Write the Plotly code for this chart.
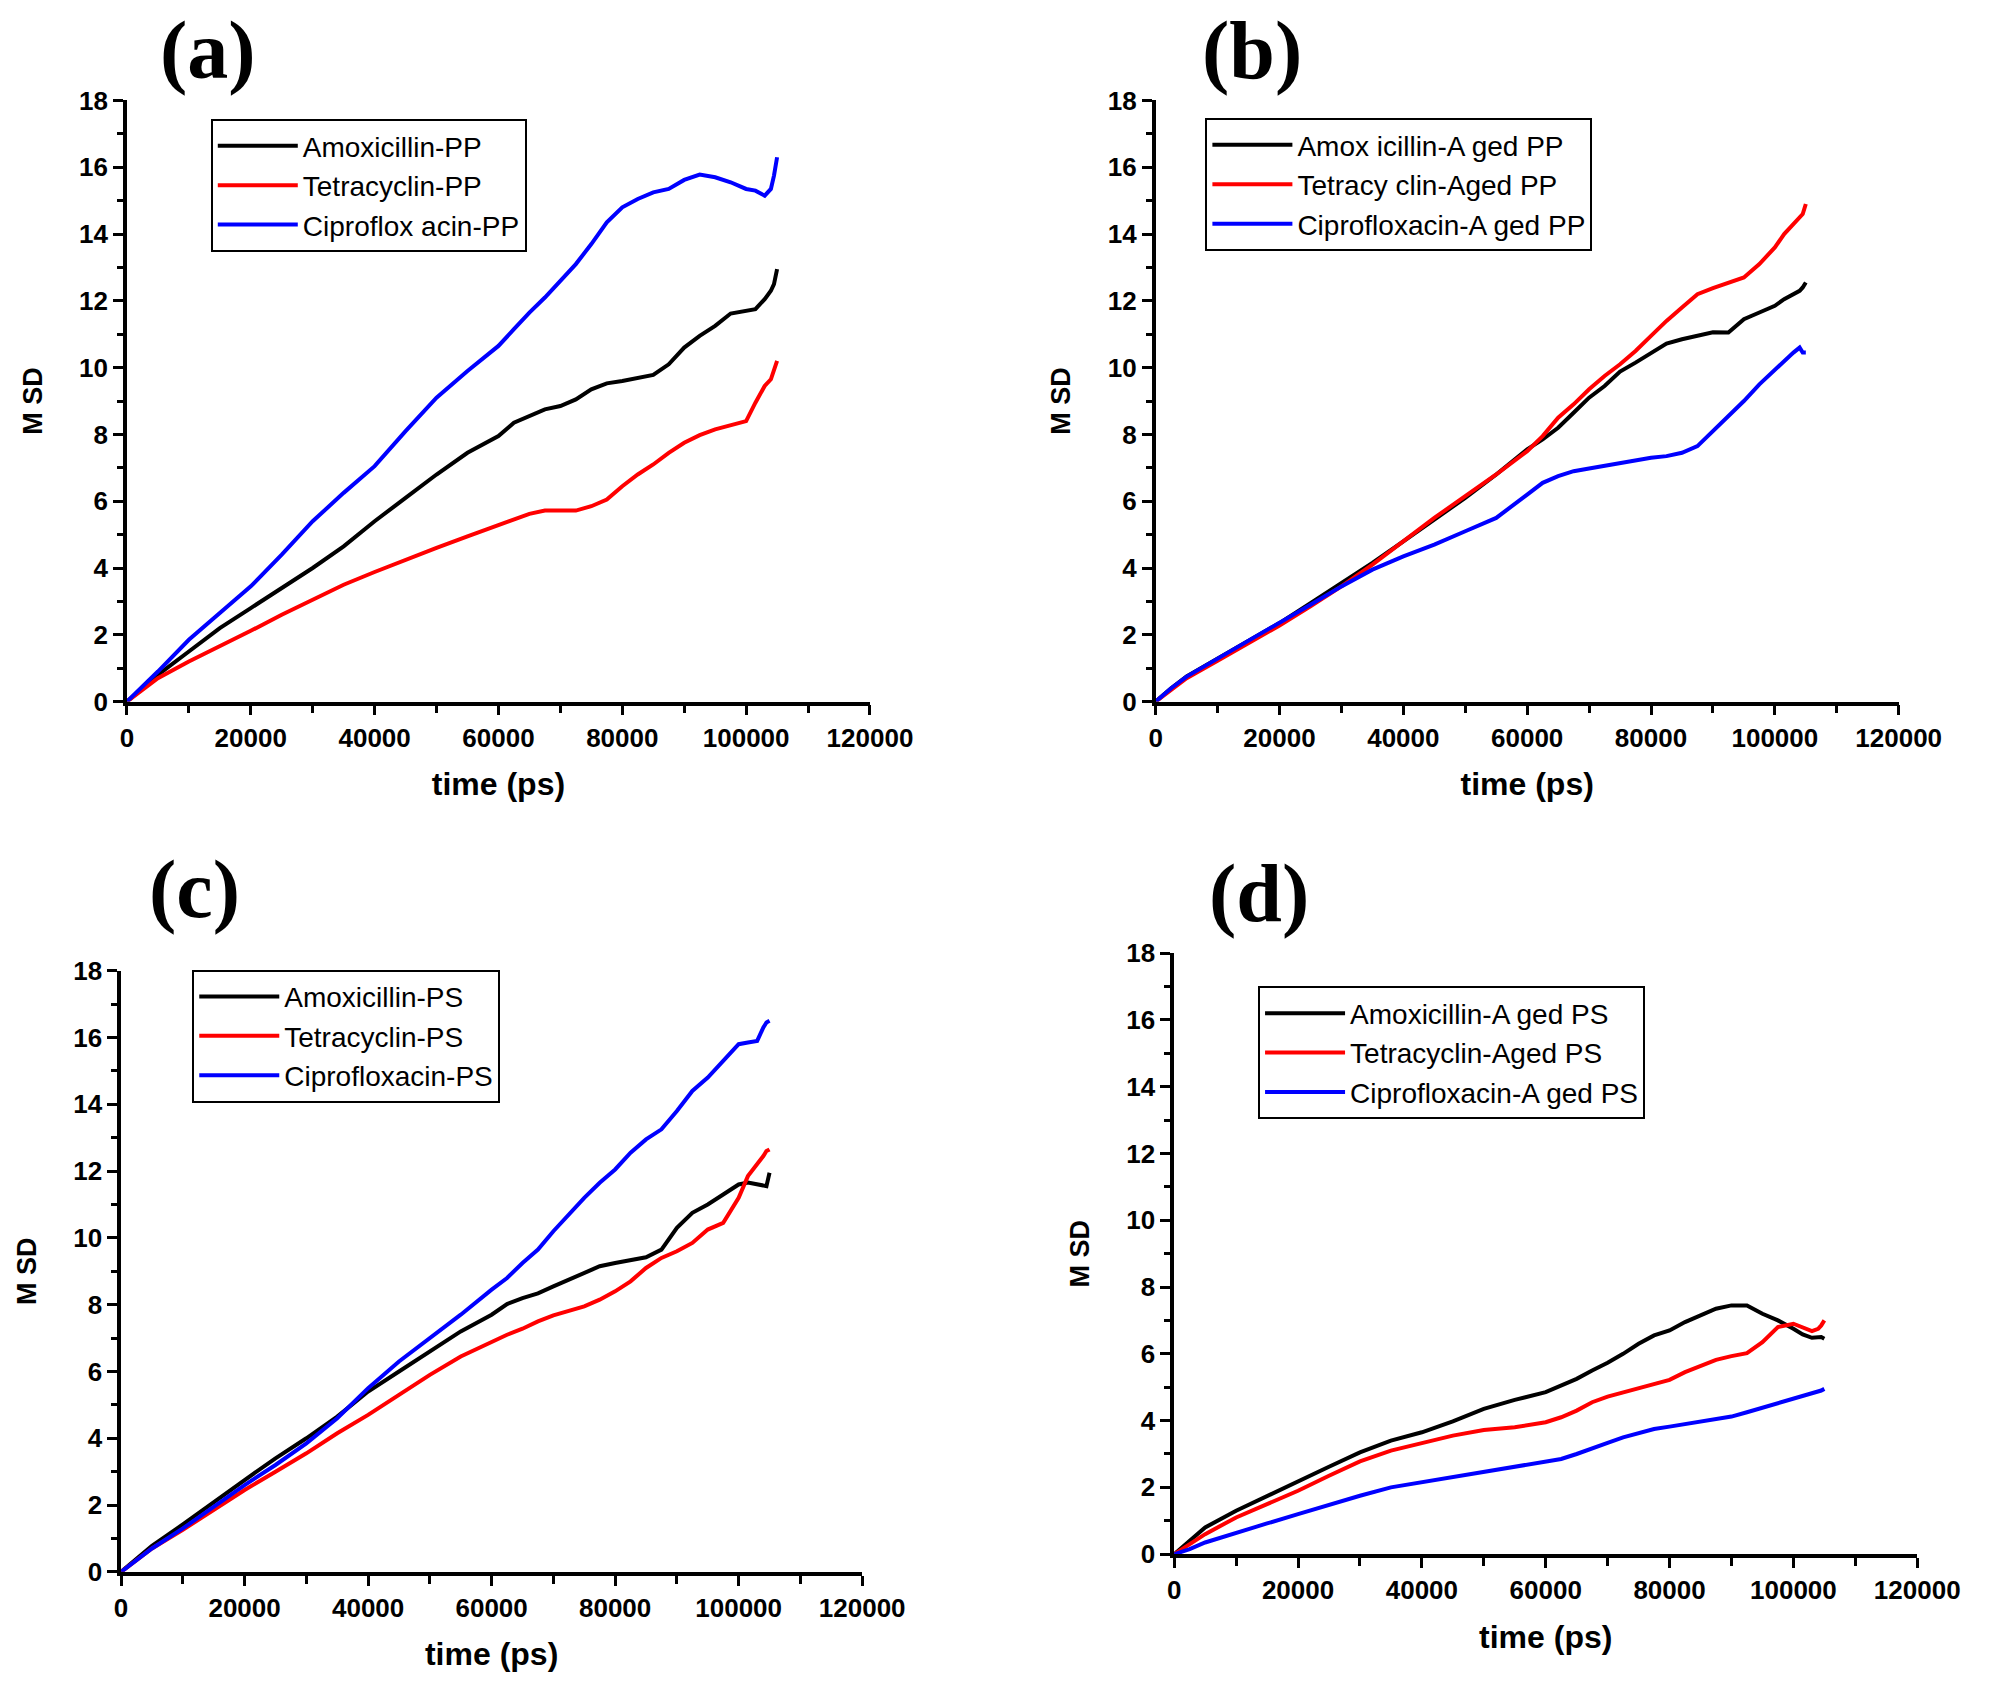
import plotly.graph_objects as go

# ---------------- data ----------------
time_ps = [0, 2500, 5000, 10000, 15000, 20000, 25000, 30000, 35000, 40000, 45000,
           50000, 55000, 60000, 62500, 65000, 67500, 70000, 72500, 75000, 77500,
           80000, 82500, 85000, 87500, 90000, 92500, 95000, 97500, 100000, 101500,
           103000, 104000, 104500, 105000]

# (a) PP
amox_pp = [0, 0.4, 0.8, 1.5, 2.2, 2.8, 3.4, 4.0, 4.65, 5.4, 6.1, 6.8, 7.45, 7.95,
           8.35, 8.55, 8.75, 8.85, 9.05, 9.35, 9.53, 9.6, 9.68, 9.78, 10.1, 10.6,
           10.95, 11.25, 11.62, 11.7, 11.75, 12.05, 12.3, 12.5, 12.95]
tetra_pp = [0, 0.35, 0.7, 1.2, 1.65, 2.12, 2.6, 3.06, 3.5, 3.88, 4.25, 4.6, 4.95,
            5.3, 5.45, 5.62, 5.72, 5.72, 5.72, 5.85, 6.05, 6.45, 6.8, 7.1, 7.45,
            7.75, 7.98, 8.15, 8.27, 8.4, 8.95, 9.45, 9.65, 9.9, 10.2]
cipro_pp = [0, 0.45, 0.9, 1.85, 2.65, 3.45, 4.4, 5.4, 6.25, 7.05, 8.1, 9.1, 9.9,
            10.65, 11.15, 11.65, 12.1, 12.6, 13.1, 13.7, 14.35, 14.8, 15.05, 15.25,
            15.35, 15.62, 15.78, 15.7, 15.55, 15.35, 15.3, 15.15, 15.35, 15.75, 16.3]

# (b) Aged PP
amox_aged_pp = [0, 0.4, 0.75, 1.28, 1.82, 2.35, 2.95, 3.55, 4.15, 4.8, 5.45, 6.1,
                6.8, 7.55, 7.85, 8.2, 8.65, 9.1, 9.45, 9.88, 10.15, 10.45, 10.72,
                10.85, 10.97, 11.06, 11.05, 11.45, 11.65, 11.85, 12.05, 12.2, 12.3,
                12.4, 12.55]
tetra_aged_pp = [0, 0.35, 0.7, 1.22, 1.75, 2.28, 2.85, 3.45, 4.1, 4.8, 5.5, 6.15,
                 6.8, 7.5, 7.95, 8.5, 8.9, 9.35, 9.75, 10.1, 10.5, 10.95, 11.4, 11.8,
                 12.2, 12.38, 12.55, 12.7, 13.1, 13.6, 14.0, 14.3, 14.5, 14.6, 14.9]
cipro_aged_pp = [0, 0.4, 0.75, 1.28, 1.82, 2.35, 2.9, 3.45, 3.95, 4.35, 4.7, 5.1,
                 5.5, 6.2, 6.55, 6.75, 6.9, 6.98, 7.06, 7.15, 7.24, 7.3, 7.35, 7.45,
                 7.65, 8.1, 8.55, 9.0, 9.5, 9.95, 10.2, 10.45, 10.6, 10.45, 10.45]

# (c) PS
amox_ps = [0, 0.4, 0.78, 1.42, 2.1, 2.75, 3.4, 4.0, 4.65, 5.4, 6.0, 6.6, 7.2, 7.7,
           8.02, 8.2, 8.34, 8.55, 8.75, 8.95, 9.15, 9.25, 9.35, 9.42, 9.65, 10.3,
           10.75, 11.0, 11.3, 11.6, 11.66, 11.6, 11.55, 11.55, 11.95]
tetra_ps = [0, 0.35, 0.7, 1.26, 1.85, 2.45, 3.0, 3.55, 4.15, 4.7, 5.3, 5.9, 6.45,
            6.9, 7.1, 7.28, 7.5, 7.68, 7.8, 7.95, 8.15, 8.4, 8.7, 9.1, 9.4, 9.6,
            9.85, 10.25, 10.45, 11.2, 11.85, 12.2, 12.45, 12.6, 12.65]
cipro_ps = [0, 0.35, 0.7, 1.3, 1.95, 2.6, 3.2, 3.85, 4.6, 5.5, 6.3, 7.0, 7.7, 8.45,
            8.8, 9.25, 9.65, 10.2, 10.7, 11.2, 11.65, 12.05, 12.55, 12.95, 13.25,
            13.8, 14.4, 14.8, 15.3, 15.8, 15.85, 15.9, 16.3, 16.45, 16.5]

# (d) Aged PS
amox_aged_ps = [0, 0.4, 0.8, 1.3, 1.75, 2.2, 2.62, 3.05, 3.4, 3.65, 3.98, 4.35,
                4.62, 4.85, 5.05, 5.25, 5.5, 5.73, 6.0, 6.3, 6.55, 6.7, 6.95, 7.15,
                7.35, 7.45, 7.45, 7.2, 7.0, 6.75, 6.58, 6.48, 6.5, 6.5, 6.45]
tetra_aged_ps = [0, 0.3, 0.6, 1.1, 1.5, 1.9, 2.35, 2.78, 3.1, 3.32, 3.55, 3.72,
                 3.8, 3.95, 4.1, 4.3, 4.55, 4.72, 4.85, 4.95, 5.1, 5.22, 5.45, 5.65,
                 5.82, 5.93, 6.02, 6.35, 6.8, 6.9, 6.78, 6.68, 6.75, 6.85, 7.0]
cipro_aged_ps = [0, 0.15, 0.35, 0.62, 0.92, 1.2, 1.48, 1.75, 2.0, 2.15, 2.33, 2.48,
                 2.6, 2.75, 2.85, 3.0, 3.15, 3.33, 3.5, 3.62, 3.75, 3.82, 3.9, 3.97,
                 4.05, 4.12, 4.25, 4.38, 4.52, 4.65, 4.72, 4.82, 4.87, 4.9, 4.95]

panel_labels = ["(a)", "(b)", "(c)", "(d)"]
series_names = [
    ["Amoxicillin-PP", "Tetracyclin-PP", "Ciproflox acin-PP"],
    ["Amox icillin-A ged PP", "Tetracy clin-Aged PP", "Ciprofloxacin-A ged PP"],
    ["Amoxicillin-PS", "Tetracyclin-PS", "Ciprofloxacin-PS"],
    ["Amoxicillin-A ged PS", "Tetracyclin-Aged PS", "Ciprofloxacin-A ged PS"],
]
series_values = [
    [amox_pp, tetra_pp, cipro_pp],
    [amox_aged_pp, tetra_aged_pp, cipro_aged_pp],
    [amox_ps, tetra_ps, cipro_ps],
    [amox_aged_ps, tetra_aged_ps, cipro_aged_ps],
]
x_tick_vals = [0, 20000, 40000, 60000, 80000, 100000, 120000]
y_tick_vals = [0, 2, 4, 6, 8, 10, 12, 14, 16, 18]

# ---------------- style / layout ----------------
W, H = 2008, 1690
colors = ["#000000", "#ff0000", "#0000ff"]
# plot-area boxes in pixels: (x_left, x_right, y_top, y_bottom)
boxes = [(123, 885, 87, 699), (1178, 1940, 87, 699),
         (117, 877, 973, 1585), (1197, 1959, 955, 1567)]
legend_pos = [(209, 106), (1229, 105), (190, 972), (1283, 989)]
label_pos = [(206, 36), (1277, 36), (192, 890), (1284, 894)]

fig = go.Figure()
layout = dict(width=W, height=H, margin=dict(l=0, r=0, t=0, b=0),
              paper_bgcolor="white", plot_bgcolor="white", showlegend=True,
              annotations=[])

tickfont = dict(family="Liberation Sans", size=26, color="black", weight="bold")
titlefont = dict(family="Liberation Sans", size=32, color="black", weight="bold")

for i in range(4):
    xl, xr, yt, yb = boxes[i]
    sfx = "" if i == 0 else str(i + 1)
    leg = "legend" if i == 0 else "legend" + str(i + 1)
    for j in range(3):
        fig.add_trace(go.Scatter(
            x=time_ps, y=series_values[i][j], mode="lines",
            name=series_names[i][j], line=dict(color=colors[j], width=4),
            xaxis="x" + sfx, yaxis="y" + sfx, legend=leg))
    common = dict(showgrid=False, zeroline=False, showline=True, linecolor="black",
                  linewidth=3.5, ticks="outside", ticklen=10, tickwidth=3,
                  tickcolor="black", tickfont=tickfont, mirror=False)
    layout["xaxis" + sfx] = dict(
        common, domain=[xl / W, xr / W], range=[0, 120000], tickvals=x_tick_vals,
        ticktext=[str(v) for v in x_tick_vals], anchor="y" + sfx,
        minor=dict(dtick=10000, ticklen=8, tickwidth=3, tickcolor="black", ticks="outside"),
        title=dict(text="time (ps)", font=titlefont, standoff=22))
    layout["yaxis" + sfx] = dict(
        common, domain=[1 - yb / H, 1 - yt / H], range=[0, 18], tickvals=y_tick_vals,
        anchor="x" + sfx,
        minor=dict(dtick=1, ticklen=6, tickwidth=3, tickcolor="black", ticks="outside"),
        title=dict(text="M SD", font=dict(titlefont, size=27), standoff=30))
    lx, ly = legend_pos[i]
    layout[leg] = dict(x=lx / W, y=1 - ly / H, xanchor="left", yanchor="top",
                       xref="paper", yref="paper",
                       bordercolor="black", borderwidth=2, bgcolor="white",
                       font=dict(family="Liberation Sans", size=28, color="black"),
                       itemwidth=80, tracegroupgap=0)
    px_, py_ = label_pos[i]
    layout["annotations"].append(dict(
        text="<b>" + panel_labels[i] + "</b>", x=px_ / W, y=1 - py_ / H,
        xref="paper", yref="paper", showarrow=False, xanchor="center", yanchor="middle",
        font=dict(family="Liberation Serif", size=82, color="black")))

fig.update_layout(**layout)
fig.write_html("out.html", config={"displayModeBar": False},
               post_script="document.body.style.margin='0px';"
                           "document.body.style.overflow='hidden';")
